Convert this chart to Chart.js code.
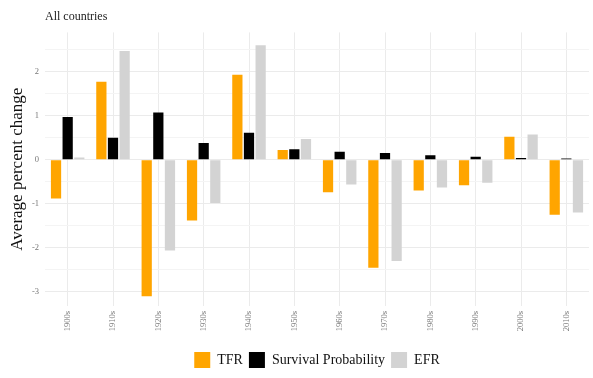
<!DOCTYPE html>
<html>
<head>
<meta charset="utf-8">
<script src="https://cdn.jsdelivr.net/npm/chart.js@4"></script>
<style>
html,body{margin:0;padding:0;background:#fff;}
#wrap{width:593px;height:378px;}
</style>
</head>
<body>
<div id="wrap"><canvas id="c" width="593" height="378"></canvas></div>
<script>
const categories = ["1900s","1910s","1920s","1930s","1940s","1950s","1960s","1970s","1980s","1990s","2000s","2010s"];
const tfr = [-0.88, 1.77, -3.1, -1.38, 1.93, 0.22, -0.74, -2.45, -0.7, -0.58, 0.52, -1.25];
const survival = [0.97, 0.5, 1.07, 0.38, 0.61, 0.24, 0.18, 0.15, 0.1, 0.07, 0.04, 0.03];
const efr = [0.05, 2.47, -2.06, -0.98, 2.6, 0.47, -0.56, -2.3, -0.63, -0.52, 0.57, -1.2];
const yTicks = [-3,-2.5,-2,-1.5,-1,-0.5,0,0.5,1,1.5,2,2.5];

const serif = "'Liberation Serif', 'DejaVu Serif', serif";

new Chart(document.getElementById('c'), {
  type: 'bar',
  data: {
    labels: categories,
    datasets: [
      {label: 'TFR', data: tfr, backgroundColor: '#FFA500'},
      {label: 'Survival Probability', data: survival, backgroundColor: '#000000'},
      {label: 'EFR', data: efr, backgroundColor: '#D3D3D3'}
    ]
  },
  options: {
    responsive: false,
    animation: false,
    devicePixelRatio: 1,
    layout: {padding: {left: 0, right: 4, top: 0, bottom: 0}},
    datasets: {bar: {categoryPercentage: 0.77, barPercentage: 0.88, borderWidth: 0}},
    plugins: {
      tooltip: {enabled: false},
      title: {
        display: true, text: 'All countries', align: 'start', fullSize: false,
        color: '#222', font: {family: serif, size: 12, weight: 'normal'},
        padding: {top: 10, bottom: 8}
      },
      legend: {
        position: 'bottom', fullSize: false,
        labels: {
          boxWidth: 16, boxHeight: 16, padding: 6,
          color: '#111', font: {family: serif, size: 14}
        }
      }
    },
    scales: {
      x: {
        offset: true,
        grid: {offset: false, color: '#ebebeb', lineWidth: 1, drawTicks: false},
        border: {display: false},
        ticks: {
          minRotation: 90, maxRotation: 90, autoSkip: false, padding: 5,
          color: '#777', font: {family: serif, size: 8.5}
        },
        afterFit: (s) => { s.height = 40; }
      },
      y: {
        min: -3.32, max: 2.89,
        afterBuildTicks: (s) => { s.ticks = yTicks.map(v => ({value: v})); },
        grid: {
          drawTicks: false,
          color: (ctx) => (ctx.tick && Number.isInteger(ctx.tick.value)) ? '#ebebeb' : '#f4f4f4',
          lineWidth: 1
        },
        border: {display: false},
        ticks: {
          padding: 6, color: '#777', font: {family: serif, size: 8.5},
          callback: (v) => Number.isInteger(v) ? String(v) : ''
        },
        title: {
          display: true, text: 'Average percent change', color: '#111',
          font: {family: serif, size: 17}, padding: {top: 7, bottom: 0}
        },
        afterFit: (s) => { s.width = 45; }
      }
    }
  }
});
</script>
</body>
</html>
